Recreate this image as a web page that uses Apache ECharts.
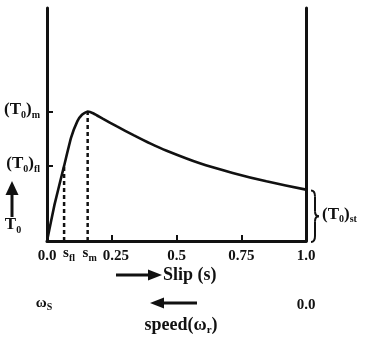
<!DOCTYPE html>
<html>
<head>
<meta charset="utf-8">
<script src="https://cdn.jsdelivr.net/npm/echarts@6/dist/echarts.min.js"></script>
<style>
html, body { margin: 0; padding: 0; background: #fff; }
#c { width: 366px; height: 337px; }
</style>
</head>
<body>
<div id="c"></div>
<script>
// Torque–slip characteristic of an induction motor (torque relative to its maximum)
const slip   = [0, 0.029, 0.066, 0.093, 0.117, 0.135, 0.157, 0.18, 0.215, 0.27, 0.334, 0.40, 0.462, 0.59, 0.717, 0.847, 1.0];
const torque = [0, 0.281, 0.58, 0.798, 0.924, 0.975, 1.0, 0.985, 0.945, 0.885, 0.818, 0.752, 0.697, 0.600, 0.526, 0.461, 0.397];

const sFl = 0.066, tFl = 0.58;   // full-load operating point
const sM  = 0.157, tM  = 1.0;    // breakdown (maximum) torque point
const tSt = 0.397;               // starting torque at s = 1

const slipTicks     = [0.25, 0.5, 0.75];
const slipLabels    = [0, 0.25, 0.5, 0.75, 1];
const slipLabelText = ['0.0', '{sh|0.25}', '0.5', '0.75', '1.0'];
const torqueLabels  = [tFl, tM];
const torqueLabelText = ['{p|(T}{z|0}{p|)}{z|fl}', '{p|(T}{z|0}{p|)}{z|m}'];

const FONT = '"Liberation Serif", "Times New Roman", serif';
const INK = '#111';

function main(size, extra) {
  return Object.assign({ fontSize: size, fontWeight: 'bold', fontFamily: FONT, color: INK, fill: INK,
    lineHeight: size, verticalAlign: 'bottom', padding: [0, 0, 2, 0] }, extra || {});
}
function sub(size, extra) {
  return Object.assign({ fontSize: size, fontWeight: 'bold', fontFamily: FONT, color: INK, fill: INK,
    lineHeight: size, verticalAlign: 'bottom' }, extra || {});
}

const chart = echarts.init(document.getElementById('c'), null, { renderer: 'canvas' });

const option = {
  animation: false,
  grid: { left: 47, right: 60, top: 8, bottom: 96 },
  xAxis: {
    type: 'value', min: 0, max: 1,
    axisLine: { show: true, onZero: false, lineStyle: { color: INK, width: 3 } },
    axisTick: { show: true, inside: true, length: 6, customValues: slipTicks, lineStyle: { color: INK, width: 2 } },
    splitLine: { show: false },
    axisLabel: {
      customValues: slipLabels, margin: 8, color: INK,
      showMinLabel: true, showMaxLabel: true, hideOverlap: false,
      fontFamily: FONT, fontWeight: 'bold', fontSize: 15,
      formatter: function (v) { return slipLabelText[slipLabels.indexOf(v)]; },
      rich: { sh: main(15, { padding: [0, 0, 0, 8] }) }
    }
  },
  yAxis: [{
    type: 'value', min: 0, max: 1.8, position: 'left',
    axisLine: { show: true, onZero: false, lineStyle: { color: INK, width: 3 } },
    axisTick: { show: true, inside: true, length: 6, customValues: torqueLabels, lineStyle: { color: INK, width: 2 } },
    splitLine: { show: false },
    axisLabel: {
      customValues: torqueLabels, margin: 7, color: INK,
      formatter: function (v) { return torqueLabelText[torqueLabels.indexOf(v)]; },
      rich: { p: main(17), z: sub(10) }
    }
  }, {
    type: 'value', min: 0, max: 1.8, position: 'right',
    axisLine: { show: true, onZero: false, lineStyle: { color: INK, width: 3 } },
    axisTick: { show: false }, axisLabel: { show: false }, splitLine: { show: false }
  }],
  series: [{
    type: 'line', data: slip.map(function (s, i) { return [s, torque[i]]; }),
    showSymbol: false, smooth: 0.15, z: 3,
    lineStyle: { color: INK, width: 2.6 }
  }, {
    type: 'line', data: [[sFl, 0], [sFl, tFl]], showSymbol: false,
    lineStyle: { color: INK, width: 2.5, type: [4, 3] }
  }, {
    type: 'line', data: [[sM, 0], [sM, tM]], showSymbol: false,
    lineStyle: { color: INK, width: 2.5, type: [4, 3] }
  }]
};
chart.setOption(option);

// Annotations placed from the axis scales
const px = function (s, t) { return chart.convertToPixel({ xAxisIndex: 0, yAxisIndex: 0 }, [s, t]); };
const origin = px(0, 0);
const flBase = px(sFl, 0);
const mBase = px(sM, 0);
const stTop = px(1, tSt);
const stBot = px(1, 0);

// curly brace spanning the starting torque
const bx = stTop[0] + 5, by0 = stTop[1] + 1, by1 = stBot[1] + 1, bm = (by0 + by1) / 2;
const braceStyle = { stroke: INK, fill: null, lineWidth: 2 };
const brace = [
  { type: 'bezierCurve', shape: { x1: bx, y1: by0, x2: bx + 4, y2: by0 + 6, cpx1: bx + 4, cpy1: by0 }, style: braceStyle },
  { type: 'line', shape: { x1: bx + 4, y1: by0 + 6, x2: bx + 4, y2: bm - 5 }, style: braceStyle },
  { type: 'bezierCurve', shape: { x1: bx + 4, y1: bm - 5, x2: bx + 8, y2: bm, cpx1: bx + 4, cpy1: bm }, style: braceStyle },
  { type: 'bezierCurve', shape: { x1: bx + 8, y1: bm, x2: bx + 4, y2: bm + 5, cpx1: bx + 4, cpy1: bm }, style: braceStyle },
  { type: 'line', shape: { x1: bx + 4, y1: bm + 5, x2: bx + 4, y2: by1 - 6 }, style: braceStyle },
  { type: 'bezierCurve', shape: { x1: bx + 4, y1: by1 - 6, x2: bx, y2: by1, cpx1: bx + 4, cpy1: by1 }, style: braceStyle }
];

const richT = { p: main(17), z: sub(10) };
const richS = { q: main(15, { padding: [0, 0, 3, 0] }), r: sub(10) };
const rowY = 305;

chart.setOption({
  graphic: [
    // slip markers under the axis
    { type: 'text', x: flBase[0] + 5, y: flBase[1] + 15, style: { text: '{q|s}{r|fl}', rich: richS, align: 'center', verticalAlign: 'middle' } },
    { type: 'text', x: mBase[0] + 2, y: mBase[1] + 15, style: { text: '{q|s}{r|m}', rich: richS, align: 'center', verticalAlign: 'middle' } },

    // torque direction arrow
    { type: 'line', shape: { x1: 12, y1: 193, x2: 12, y2: 217 }, style: { stroke: INK, lineWidth: 3 } },
    { type: 'polygon', shape: { points: [[12, 181], [5.5, 195], [18.5, 195]] }, style: { fill: INK } },
    { type: 'text', x: 13, y: 227, style: { text: '{p|T}{z|0}', rich: richT, align: 'center', verticalAlign: 'middle' } },

    // slip direction arrow
    { type: 'line', shape: { x1: 116, y1: 275, x2: 150, y2: 275 }, style: { stroke: INK, lineWidth: 3 } },
    { type: 'polygon', shape: { points: [[162, 275], [148, 269.5], [148, 280.5]] }, style: { fill: INK } },
    { type: 'text', x: 163, y: 275, style: { text: 'Slip (s)', fill: INK, font: 'bold 18px ' + FONT, align: 'left', verticalAlign: 'middle' } },

    // speed direction arrow
    { type: 'line', shape: { x1: 162, y1: 303, x2: 197, y2: 303 }, style: { stroke: INK, lineWidth: 3 } },
    { type: 'polygon', shape: { points: [[150, 303], [164, 297.5], [164, 308.5]] }, style: { fill: INK } },
    { type: 'text', x: 181, y: 327, style: { text: '{q|speed(ω}{r|r}{q|)}', rich: { q: main(18), r: sub(11) }, align: 'center', verticalAlign: 'middle' } },

    // speed scale
    { type: 'text', x: origin[0] - 3, y: rowY, style: { text: '{q|ω}{r|S}', rich: { q: main(15), r: sub(10) }, align: 'center', verticalAlign: 'middle' } },
    { type: 'text', x: stBot[0], y: rowY, style: { text: '0.0', fill: INK, font: 'bold 15px ' + FONT, align: 'center', verticalAlign: 'middle' } },

    // starting torque label
    { type: 'text', x: bx + 11, y: bm, style: { text: '{p|(T}{z|0}{p|)}{z|st}', rich: richT, align: 'left', verticalAlign: 'middle' } }
  ].concat(brace)
});
</script>
</body>
</html>
